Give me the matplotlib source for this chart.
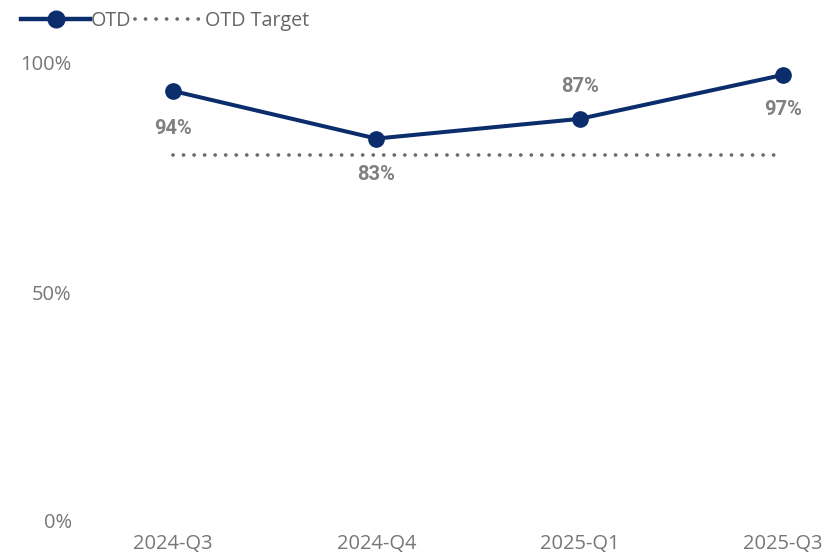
import matplotlib.pyplot as plt
from matplotlib.lines import Line2D

# data
quarters = ['2024-Q3', '2024-Q4', '2025-Q1', '2025-Q3']
otd = [93.9, 83.5, 87.8, 97.4]
otd_labels = ['94%', '83%', '87%', '97%']
target = [80, 80, 80, 80]
y_ticks = [0, 50, 100]
y_tick_labels = ['0%', '50%', '100%']

navy = '#0B2D6B'
dotgrey = '#726A6A'
textgrey = '#777777'
dots = (0, (0.01, 2.8))

plt.rcParams['font.family'] = ['Open Sans', 'DejaVu Sans']

fig = plt.figure(figsize=(8.27, 5.55), dpi=100)
# axes placed so that 0% sits at y=521px and 100% at y=63px
ax = fig.add_axes([80 / 827, (555 - 521) / 555, 747 / 827, (521 - 63) / 555])

x = list(range(len(quarters)))
ax.plot(x, target, color=dotgrey, lw=2.7, linestyle=dots,
        dash_capstyle='round', zorder=2)
ax.plot(x, otd, color=navy, lw=2.9, marker='o', markersize=11, zorder=3)

# label positions: below / below / above / below
offsets = [-27, -26, 23, -25]
for i, (v, lab, o) in enumerate(zip(otd, otd_labels, offsets)):
    ax.annotate(lab, (i, v), xytext=(0, o), textcoords='offset points',
                ha='center', va='center', fontsize=14.5, fontweight='bold',
                color='#808080', family=['Roboto', 'DejaVu Sans'])

ax.set_xlim(-93 / 203.33, 3 + 44 / 203.33)
ax.set_ylim(0, 100)
ax.set_xticks(x)
ax.set_xticklabels(quarters)
ax.set_yticks(y_ticks)
ax.set_yticklabels(y_tick_labels)
ax.tick_params(axis='both', length=0, labelsize=14.5, labelcolor=textgrey)
ax.tick_params(axis='x', pad=9)
ax.tick_params(axis='y', pad=6)
for s in ax.spines.values():
    s.set_visible(False)

handles = [
    Line2D([], [], color=navy, lw=3.2, marker='o', markersize=12),
    Line2D([], [], color=dotgrey, lw=2.7, linestyle=dots,
           dash_capstyle='round'),
]
fig.legend(handles, ['OTD', 'OTD Target'], loc='upper left',
           bbox_to_anchor=(0.016, 0.995), ncol=2, frameon=False,
           handlelength=3.5, handletextpad=0.05, columnspacing=0.15,
           fontsize=14.2, labelcolor='#666666', borderaxespad=0)

fig.savefig('out.png', dpi=100)
